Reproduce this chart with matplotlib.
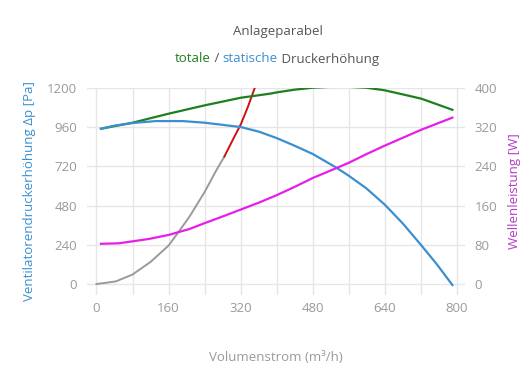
import matplotlib
matplotlib.use("Agg")
import matplotlib.pyplot as plt

# ── Data ───────────────────────────────────────────────────────────────────
flow_total = [10, 80, 160, 240, 321, 384, 404, 440, 480, 539, 599, 640, 680, 721, 790]
p_total = [949, 986, 1041, 1092, 1139, 1163, 1173, 1188, 1200, 1208, 1200, 1184, 1159, 1133, 1065]

flow_static = [10, 40, 80, 132, 191, 240, 280, 321, 361, 400, 436, 480, 532, 560, 599,
               640, 680, 720, 754, 790]
p_static = [949, 968, 984, 996, 996, 986, 973, 959, 931, 892, 850, 795, 712, 662, 585,
            485, 370, 240, 126, -6]

flow_power = [10, 50, 80, 117, 160, 206, 240, 284, 321, 361, 400, 440, 480, 532, 560,
              600, 640, 680, 720, 790]
power = [82, 83, 87, 92, 100, 112, 124, 139, 152, 166, 181, 198, 216, 236, 247,
         265, 282, 298, 314, 339]

flow_sys = [0, 43, 80, 120, 160, 184, 206, 240, 265, 284]
p_sys = [0, 16, 58, 135, 235, 325, 410, 562, 690, 780]

flow_sys_hi = [284, 302, 321, 336, 352]
p_sys_hi = [780, 878, 980, 1082, 1204]

x_ticks = [0, 160, 320, 480, 640, 800]
y_ticks = [0, 240, 480, 720, 960, 1200]
y2_ticks = [0, 80, 160, 240, 320, 400]

# ── Style ──────────────────────────────────────────────────────────────────
plt.rcParams.update({
    'font.family': ['Open Sans', 'DejaVu Sans'],
    'font.size': 9,
})
GREEN = '#1f7f1f'
BLUE = '#3b8fcf'
MAGENTA = '#e81ee8'
GREY = '#9a9a9a'
RED = '#cc1111'
TICK = '#9a9a9a'
GRID = '#e6e6e6'

fig = plt.figure(figsize=(5.3, 3.9), dpi=100)
ax = fig.add_axes([87 / 530, 95 / 390, 378 / 530, 207.3 / 390])
ax2 = ax.twinx()

ax.plot(flow_sys, p_sys, color=GREY, lw=1.4, zorder=3)
ax.plot(flow_sys_hi, p_sys_hi, color=RED, lw=1.4, zorder=3)
ax.plot(flow_total, p_total, color=GREEN, lw=1.6, zorder=3)
ax.plot(flow_static, p_static, color=BLUE, lw=1.6, zorder=3)
ax2.plot(flow_power, power, color=MAGENTA, lw=1.6, zorder=3)

ax.set_xlim(-21, 818)
ax.set_ylim(-67, 1200)
ax2.set_ylim(-67 / 3, 400)

grid_x = list(range(0, 801, 80))
ax.set_xticks(grid_x)
ax.set_xticklabels([str(v) if v in x_ticks else '' for v in grid_x])
ax.set_yticks(y_ticks)
ax2.set_yticks(y2_ticks)

for a in (ax, ax2):
    for s in a.spines.values():
        s.set_visible(False)
    a.tick_params(length=0, colors=TICK, labelsize=9.5)
ax.tick_params(axis='y', pad=7)
ax2.tick_params(axis='y', pad=7)
ax.tick_params(axis='x', pad=5)

ax.grid(True, color=GRID, lw=1)
ax.set_axisbelow(True)

ax.set_ylabel('Ventilatorendruckerhöhung Δp [Pa]', color=BLUE, fontsize=9.5, labelpad=8)
ax2.set_ylabel('Wellenleistung [W]', color='#b43cc3', fontsize=9.5, labelpad=8)
ax.set_xlabel('Volumenstrom (m³/h)', color=TICK, fontsize=9.5, labelpad=26)

fig.text(0.525, 1 - 32 / 390, 'Anlageparabel', ha='center', va='center',
         color='#555555', fontsize=9.5)

# multi-coloured subtitle
parts = [('totale', GREEN), (' / ', '#555555'), ('statische', BLUE), (' Druckerhöhung', '#555555')]
fig.canvas.draw()
renderer = fig.canvas.get_renderer()
texts = []
for s, c in parts:
    t = fig.text(0, 1 - 59 / 390, s, ha='left', va='center', color=c, fontsize=9.5)
    texts.append(t)
widths = [t.get_window_extent(renderer).width for t in texts]
total = sum(widths)
x0 = 277 - total / 2
for t, w in zip(texts, widths):
    t.set_x(x0 / 530)
    x0 += w

fig.savefig('out.png', dpi=100)
